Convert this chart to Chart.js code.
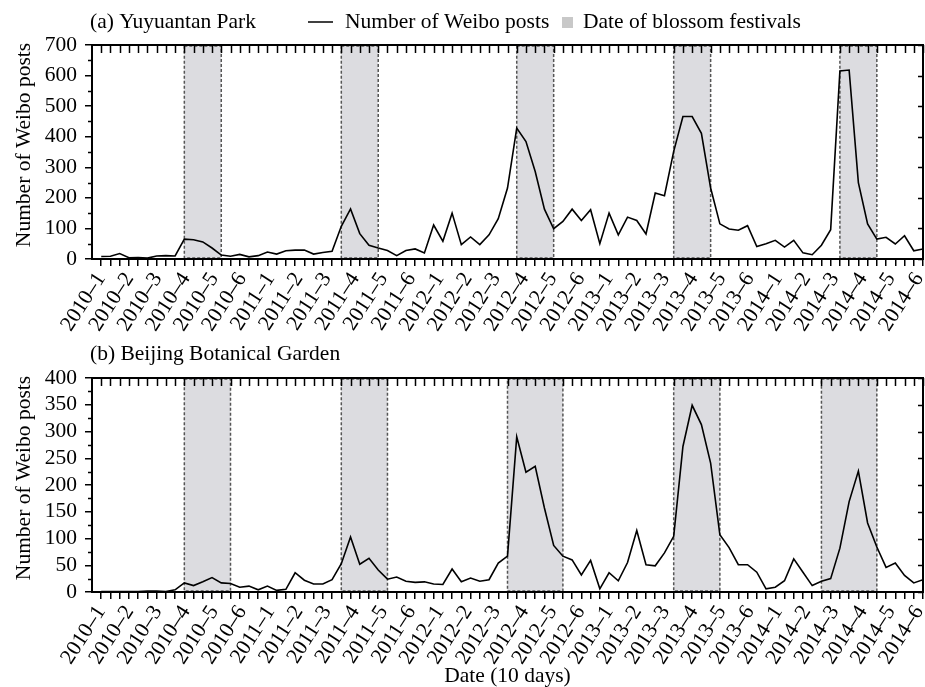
<!DOCTYPE html>
<html>
<head>
<meta charset="utf-8">
<script src="https://cdn.jsdelivr.net/npm/chart.js@4.4.1/dist/chart.umd.min.js"></script>
<style>
  html, body { margin: 0; padding: 0; background: #fff; }
  #wrap { position: relative; width: 925px; height: 687px; overflow: hidden; }
  canvas { position: absolute; left: 0; }
  #chartA { top: 0; }
  #chartB { top: 335px; }
</style>
</head>
<body>
<div id="wrap">
  <canvas id="chartA" width="925" height="335"></canvas>
  <canvas id="chartB" width="925" height="352"></canvas>
</div>
<script>
// one label per month (first 10-day period), Jan–Jun of each year
const years = [2010, 2011, 2012, 2013, 2014];
const months = [1, 2, 3, 4, 5, 6];
const monthLabels = years.flatMap(y => months.map(m => `${y}–${m}`));

// Weibo posts per 10-day period, 2010-1 .. 2014-6 (3 periods per month)
const yuyuantan = [
  8, 9, 18, 4, 5, 3, 10, 11, 10, 65,
  63, 56, 36, 13, 9, 15, 7, 11, 23, 16,
  27, 29, 29, 16, 21, 25, 107, 164, 83, 45,
  36, 28, 11, 28, 33, 20, 111, 58, 150, 47,
  72, 47, 79, 132, 232, 428, 384, 286, 163, 99,
  123, 163, 126, 161, 50, 150, 79, 137, 126, 82,
  216, 207, 352, 466, 466, 411, 232, 115, 98, 94,
  109, 41, 50, 61, 39, 61, 20, 14, 45, 96,
  615, 618, 250, 115, 65, 71, 49, 76, 27, 33,
];
const botanical = [
  1, 1, 1, 1, 1, 2, 2, 1, 4, 17,
  12, 19, 27, 17, 16, 9, 11, 4, 11, 3,
  5, 36, 22, 15, 15, 23, 53, 103, 52, 63,
  41, 24, 28, 20, 18, 19, 15, 14, 43, 19,
  26, 20, 23, 54, 67, 290, 224, 235, 157, 87,
  67, 60, 32, 59, 6, 36, 21, 55, 115, 51,
  49, 73, 104, 272, 349, 313, 241, 107, 83, 51,
  51, 37, 6, 9, 21, 62, 37, 12, 20, 25,
  82, 169, 226, 129, 84, 46, 54, 31, 17, 23,
];

// blossom festival spans, as [first, last] period index
const festivalsA = [[9, 13], [26, 30], [45, 49], [62, 66], [80, 84]];
const festivalsB = [[9, 14], [26, 31], [44, 50], [62, 67], [78, 84]];

const yTicksA = [0, 100, 200, 300, 400, 500, 600, 700];
const yTicksB = [0, 50, 100, 150, 200, 250, 300, 350, 400];

const FONT = '"Liberation Serif", "Times New Roman", serif';
const FS = 21.5;
Chart.defaults.font.family = FONT;
Chart.defaults.font.size = FS;
Chart.defaults.color = '#000';

const periods = yuyuantan.map((_, i) => i);
const labelSlots = monthLabels.map((_, k) => k);

// grey festival bands behind the line
const festivalBands = {
  id: 'festivalBands',
  beforeDatasetsDraw(chart, args, opts) {
    const { ctx, chartArea: a, scales: { x } } = chart;
    ctx.save();
    opts.spans.forEach(([s, e]) => {
      const x0 = x.getPixelForValue(s), x1 = x.getPixelForValue(e);
      ctx.fillStyle = '#dcdce0';
      ctx.fillRect(x0, a.top, x1 - x0, a.bottom - a.top);
      ctx.setLineDash([3, 2]);
      ctx.strokeStyle = '#555';
      ctx.lineWidth = 1.5;
      ctx.strokeRect(x0, a.top + 1, x1 - x0, a.bottom - a.top - 2);
    });
    ctx.restore();
  },
};

// box frame, mirrored ticks on top/right, minor ticks on the left
const frame = {
  id: 'frame',
  afterDraw(chart) {
    const { ctx, chartArea: a, scales: { x, y } } = chart;
    ctx.save();
    ctx.strokeStyle = '#000';
    ctx.lineWidth = 1.5;
    ctx.beginPath();
    x.ticks.forEach(t => {
      const px = Math.round(x.getPixelForValue(t.value)) + 0.5;
      ctx.moveTo(px, a.top);
      ctx.lineTo(px, a.top + 8);
    });
    const yt = y.ticks.map(t => t.value);
    yt.forEach((v, i) => {
      const py = Math.round(y.getPixelForValue(v)) + 0.5;
      ctx.moveTo(a.right, py);
      ctx.lineTo(a.right - 5, py);
      if (i > 0) {
        const pm = Math.round(y.getPixelForValue((v + yt[i - 1]) / 2)) + 0.5;
        ctx.moveTo(a.left, pm);
        ctx.lineTo(a.left - 4, pm);
      }
    });
    ctx.stroke();
    ctx.lineWidth = 2;
    ctx.strokeRect(a.left, a.top, a.right - a.left, a.bottom - a.top);
    ctx.restore();
  },
};

// panel caption, y title and (optional) legend
const caption = {
  id: 'caption',
  afterDraw(chart, args, opts) {
    const { ctx, chartArea: a } = chart;
    ctx.save();
    ctx.font = `${FS}px ${FONT}`;
    ctx.fillStyle = '#000';
    ctx.textBaseline = 'alphabetic';
    ctx.fillText(opts.text, 90, opts.baseline);
    if (opts.legend) {
      ctx.strokeStyle = '#000';
      ctx.lineWidth = 1.5;
      ctx.beginPath();
      ctx.moveTo(308, opts.baseline - 6);
      ctx.lineTo(333, opts.baseline - 6);
      ctx.stroke();
      ctx.fillText('Number of Weibo posts', 345, opts.baseline);
      ctx.fillStyle = '#c8c8c8';
      ctx.fillRect(562, opts.baseline - 11, 11, 11);
      ctx.fillStyle = '#000';
      ctx.fillText('Date of blossom festivals', 583, opts.baseline);
    }
    ctx.translate(24, (a.top + a.bottom) / 2 - 7);
    ctx.rotate(-Math.PI / 2);
    ctx.textAlign = 'center';
    ctx.textBaseline = 'middle';
    ctx.fillText('Number of Weibo posts', 0, 0);
    ctx.restore();
  },
};

function makeChart(id, values, spans, yTicks, yMax, opts) {
  return new Chart(document.getElementById(id), {
    type: 'line',
    data: {
      datasets: [{
        data: values.map((v, i) => ({ x: periods[i], y: v })),
        borderColor: '#000',
        borderWidth: 1.6,
        pointRadius: 0,
        tension: 0,
        fill: false,
      }],
    },
    options: {
      responsive: false,
      animation: false,
      devicePixelRatio: 1,
      layout: { padding: { top: opts.top, right: 2, left: 0, bottom: 0 } },
      plugins: {
        legend: { display: false },
        tooltip: { enabled: false },
        festivalBands: { spans },
        caption: { text: opts.title, baseline: opts.baseline, legend: opts.legend },
      },
      scales: {
        // period axis: one tick mark per 10 days
        x: {
          type: 'linear',
          weight: 0,
          min: -1,
          max: 89,
          afterBuildTicks: s => { s.ticks = periods.map(v => ({ value: v })); },
          afterFit: s => { s.height = 7; s.paddingLeft = 0; s.paddingRight = 0; },
          grid: { drawOnChartArea: false, tickLength: 7, color: '#000', lineWidth: 1.5 },
          border: { color: '#000', width: 2 },
          ticks: { display: false },
        },
        // month labels, spread as in the source figure
        xl: {
          type: 'linear',
          position: 'bottom',
          weight: 1,
          min: -0.326,
          max: 29.135,
          afterBuildTicks: s => { s.ticks = labelSlots.map(v => ({ value: v })); },
          afterFit: s => { s.height = opts.xHeight - 7; s.paddingLeft = 0; s.paddingRight = 0; },
          grid: { display: false, drawTicks: false },
          border: { display: false },
          ticks: {
            autoSkip: false,
            maxRotation: 57,
            minRotation: 57,
            padding: 2,
            callback: v => monthLabels[v],
          },
          title: {
            display: !!opts.xTitle,
            text: opts.xTitle || '',
            font: { size: FS, lineHeight: 1 },
            padding: { top: 0, bottom: 0 },
          },
        },
        y: {
          min: 0,
          max: yMax,
          afterBuildTicks: s => { s.ticks = yTicks.map(v => ({ value: v })); },
          afterFit: s => { s.width = 92; s.paddingTop = 0; s.paddingBottom = 0; },
          grid: { drawOnChartArea: false, tickLength: 7, color: '#000', lineWidth: 1.5 },
          border: { color: '#000', width: 2 },
          ticks: { autoSkip: false, padding: 8 },
        },
      },
    },
    plugins: [festivalBands, frame, caption],
  });
}

makeChart('chartA', yuyuantan, festivalsA, yTicksA, 700,
  { top: 45, xHeight: 76, title: '(a) Yuyuantan Park', baseline: 28, legend: true });
makeChart('chartB', botanical, festivalsB, yTicksB, 400,
  { top: 43, xHeight: 95, title: '(b) Beijing Botanical Garden', baseline: 25, legend: false, xTitle: 'Date (10 days)' });
</script>
</body>
</html>
